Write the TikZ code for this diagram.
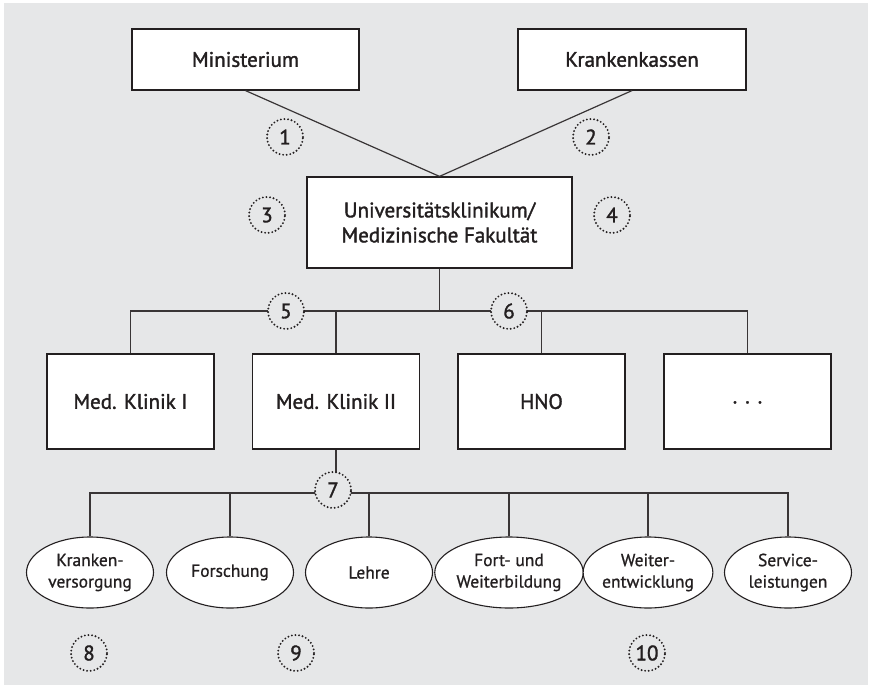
\documentclass[tikz,border=0pt]{standalone}
\usepackage{fontspec}
\setmainfont{PT Sans}
\newfontfamily\medfont[FakeBold=1.6]{PT Sans}
\newfontfamily\lightmed[FakeBold=0.9]{PT Sans}
\usetikzlibrary{shapes.geometric}
\definecolor{bg}{HTML}{E6E7E8}
\definecolor{ink}{HTML}{231F20}
\tikzset{
  box/.style={draw=ink, line width=1.2pt, fill=white, rectangle, inner sep=0pt, font=\medfont\fontsize{21}{25}\selectfont, text=ink, align=center},
  oval/.style={draw=ink, line width=1.1pt, fill=white, ellipse, inner sep=0pt, minimum width=127pt, minimum height=71pt, font=\lightmed\fontsize{17.5}{21.5}\selectfont, text=ink, align=center},
  num/.style={circle, fill=bg, draw=ink, line width=2.1pt, dash pattern=on 0pt off 3.6pt, line cap=round, minimum size=36pt, inner sep=0pt, font=\medfont\fontsize{21}{22}\selectfont, text=ink},
  conn/.style={draw=ink!90, line width=1.2pt}
}
\begin{document}
\begin{tikzpicture}[x=1pt,y=-1pt]
\useasboundingbox (0,0) rectangle (869,685);
\fill[white] (0,0) rectangle (869,685);
\fill[bg] (4,3) rectangle (868,685);

\node[box, minimum width=227pt, minimum height=61pt] (min) at (245.5,59.5) {Ministerium};
\node[box, minimum width=228pt, minimum height=61pt] (kk) at (632,59.5) {Krankenkassen};
\node[box, minimum width=265pt, minimum height=91pt] (uni) at (439.5,222.5) {Universitätsklinikum/\\Medizinische Fakultät};

\node[box, minimum width=167pt, minimum height=95pt] (m1) at (130.5,401.5) {Med. Klinik I};
\node[box, minimum width=167pt, minimum height=95pt] (m2) at (336,401.5) {Med. Klinik II};
\node[box, minimum width=167pt, minimum height=95pt] (hno) at (541.5,401.5) {HNO};
\node[box, minimum width=167pt, minimum height=95pt] (etc) at (747.5,401.5) {\raisebox{-4pt}{.\hspace{8pt}.\hspace{8pt}.}};

\node[oval] (e1) at (90,572.5) {Kranken-\\versorgung};
\node[oval] (e2) at (230,572.5) {Forschung};
\node[oval] (e3) at (369,572.5) {Lehre};
\node[oval] (e4) at (509,572.5) {Fort- und\\Weiterbildung};
\node[oval] (e5) at (648,572.5) {Weiter-\\entwicklung};
\node[oval] (e6) at (788,572.5) {Service-\\leistungen};

\coordinate (bar1) at (439.5,311);
\coordinate (bar2) at (336,493);

\draw[conn] (min.south) -- (uni.north);
\draw[conn] (kk.south) -- (uni.north);
\draw[conn] (uni.south) -- (bar1);
\draw[conn] (m1.north) |- (bar1) -| (etc.north);
\draw[conn] (m2.north) -- (m2.north |- bar1);
\draw[conn] (hno.north) -- (hno.north |- bar1);
\draw[conn] (m2.south) -- (bar2);
\draw[conn] (e1.north) |- (bar2) -| (e6.north);
\draw[conn] (e2.north) -- (e2.north |- bar2);
\draw[conn] (e3.north) -- (e3.north |- bar2);
\draw[conn] (e4.north) -- (e4.north |- bar2);
\draw[conn] (e5.north) -- (e5.north |- bar2);

\node[num] (n1) at (285,137) {1};
\node[num] (n2) at (591,137) {2};
\node[num] (n3) at (267,215) {3};
\node[num] (n4) at (612,215) {4};
\node[num] (n5) at (286,311) {5};
\node[num] (n6) at (509,311) {6};
\node[num] (n7) at (333,490) {7};
\node[num] (n8) at (89,653) {8};
\node[num] (n9) at (296,653) {9};
\node[num] (n10) at (647,653) {10};
\end{tikzpicture}
\end{document}
